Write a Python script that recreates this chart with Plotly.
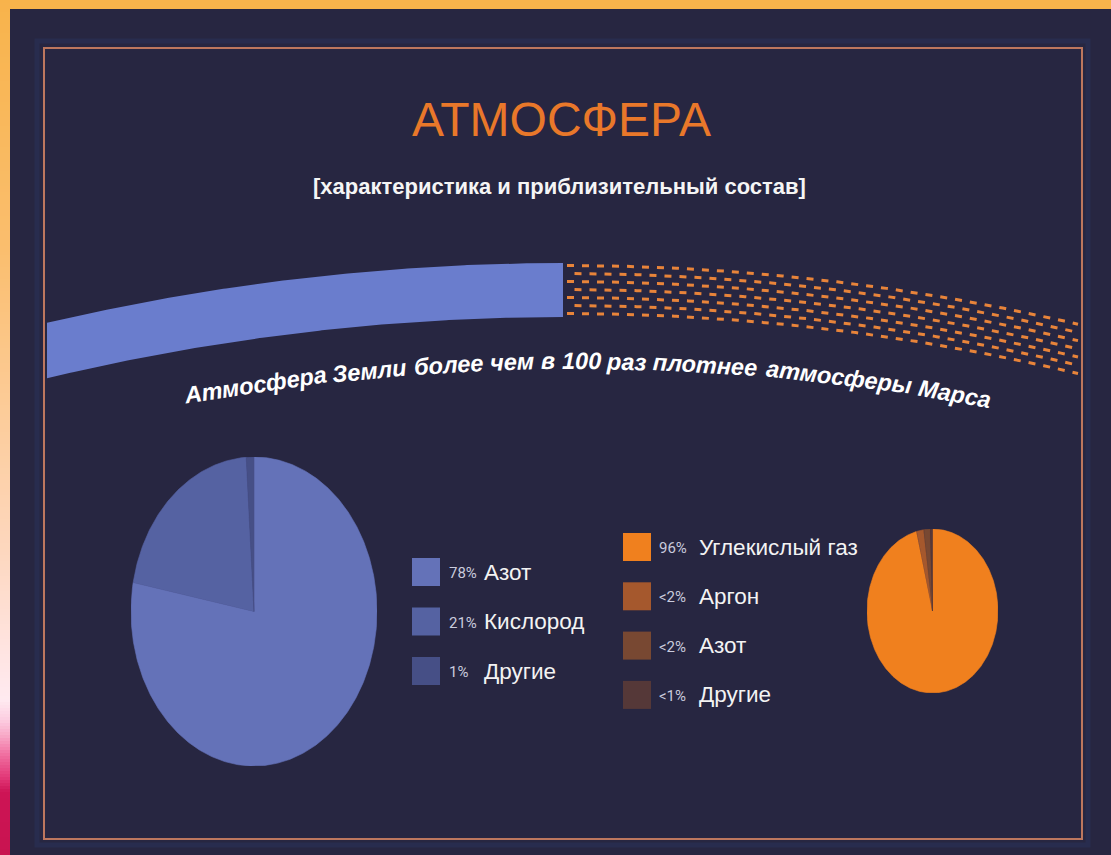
import numpy as np
import plotly.graph_objects as go

W, H = 1111, 855

# ---------------- data ----------------
title_text = "АТМОСФЕРА"
subtitle_text = "[характеристика и приблизительный состав]"
arc_words = ["Атмосфера", "Земли", "более", "чем", "в", "100", "раз", "плотнее", "атмосферы", "Марса"]

earth_labels = ["Азот", "Кислород", "Другие"]
earth_values = [78, 21, 1]
earth_pct = ["78%", "21%", "1%"]

mars_labels = ["Углекислый газ", "Аргон", "Азот", "Другие"]
mars_values = [96, 1.8, 1.6, 0.6]
mars_pct = ["96%", "<2%", "<2%", "<1%"]

# ---------------- styles / layout constants ----------------
BG = "#272641"
earth_colors = ["#6472B8", "#5562A2", "#464F86"]
mars_colors = ["#F0801E", "#A5582D", "#784832", "#553838"]
BAND_BLUE = "#6A7DCD"
DASH_ORANGE = "#E8843A"
BORDER = "#BD775E"
TITLE_ORANGE = "#E9782A"

ARC_CX, ARC_CY = 565.0, 2537.0
R_TOP, R_BOT = 2274.0, 2220.0
TEXT_CX, R_TEXT = 578.0, 2176.0
CAPTION_SIZE = 23.5
CAPTION_START_X = 186.0
# approximate rendered word widths (px) at 21px bold italic, used to lay words along the arc
WORD_W21 = [125, 70, 60, 42, 11, 36, 33, 96, 133, 64]

fig = go.Figure()

def arc_y(x, r, cx=ARC_CX):
    return ARC_CY - np.sqrt(r ** 2 - (np.asarray(x) - cx) ** 2)

# ---------- blue band (Earth atmosphere) ----------
xs = np.linspace(47, 563, 200)
bx = np.concatenate([xs, xs[::-1]])
by = np.concatenate([arc_y(xs, R_TOP), arc_y(xs[::-1], R_BOT)])
fig.add_trace(go.Scatter(x=bx, y=by, mode="lines", fill="toself", fillcolor=BAND_BLUE,
                         line=dict(width=0, color=BAND_BLUE), hoverinfo="skip"))

# ---------- dashed band (Mars atmosphere) ----------
n_rows = 7
for i in range(n_rows):
    r = R_TOP - 2.5 - i * 8.0
    x0 = 567 + (7.5 if i % 2 else 0)
    dx = np.linspace(x0, 1078, 300)
    fig.add_trace(go.Scatter(x=dx, y=arc_y(dx, r), mode="lines",
                             line=dict(color=DASH_ORANGE, width=3, dash="7px,8px"),
                             hoverinfo="skip"))

# ---------- pies drawn as wedges on their own axes (ellipses) ----------
def add_pie(values, colors, xa, ya):
    total = float(sum(values))
    start = 0.0
    for v, c in zip(values, colors):
        end = start + v / total * 360.0
        a = np.radians(np.linspace(start, end, max(4, int((end - start) * 2) + 2)))
        px = np.concatenate([[0], np.sin(a), [0]])
        py = np.concatenate([[0], np.cos(a), [0]])
        fig.add_trace(go.Scatter(x=px, y=py, mode="lines", fill="toself", fillcolor=c,
                                 line=dict(width=0.6, color=c), xaxis=xa, yaxis=ya,
                                 hoverinfo="skip"))
        start = end

add_pie(earth_values, earth_colors, "x2", "y2")
add_pie(mars_values, mars_colors, "x3", "y3")

# ---------- legend swatches ----------
L_SQ_X, L_ROW0, L_STEP = 426, 572, 49.5
R_SQ_X, R_ROW0, R_STEP = 637, 547, 49.3
left_rows = [L_ROW0 + i * L_STEP for i in range(len(earth_labels))]
right_rows = [R_ROW0 + i * R_STEP for i in range(len(mars_labels))]

fig.add_trace(go.Scatter(x=[L_SQ_X] * len(earth_labels), y=left_rows, mode="markers",
                         marker=dict(symbol="square", size=28, color=earth_colors, line=dict(width=0)),
                         hoverinfo="skip"))
fig.add_trace(go.Scatter(x=[R_SQ_X] * len(mars_labels), y=right_rows, mode="markers",
                         marker=dict(symbol="square", size=28, color=mars_colors, line=dict(width=0)),
                         hoverinfo="skip"))

annotations = []
PCT_FONT = dict(family="Liberation Sans Narrow, Roboto, Liberation Sans, Arial", size=15, color="#C9CBDD")
NAME_FONT = dict(family="Liberation Sans, Arial", size=22.5, color="#F3F3F3")
for y, p, n in zip(left_rows, earth_pct, earth_labels):
    annotations.append(dict(x=447, y=y + 1, text=p, xanchor="left", yanchor="middle",
                            showarrow=False, font=PCT_FONT, xref="x", yref="y"))
    annotations.append(dict(x=482, y=y, text=n, xanchor="left", yanchor="middle",
                            showarrow=False, font=NAME_FONT, xref="x", yref="y"))
for y, p, n in zip(right_rows, mars_pct, mars_labels):
    annotations.append(dict(x=657, y=y + 1, text=p, xanchor="left", yanchor="middle",
                            showarrow=False, font=PCT_FONT, xref="x", yref="y"))
    annotations.append(dict(x=697, y=y, text=n, xanchor="left", yanchor="middle",
                            showarrow=False, font=NAME_FONT, xref="x", yref="y"))

# ---------- title + subtitle ----------
annotations.append(dict(x=561, y=119, text=title_text, xanchor="center", yanchor="middle",
                        showarrow=False, xref="x", yref="y",
                        font=dict(family="Liberation Sans, Arial", size=48, color=TITLE_ORANGE)))
annotations.append(dict(x=559, y=186, text="<b>" + subtitle_text + "</b>", xanchor="center",
                        yanchor="middle", showarrow=False, xref="x", yref="y",
                        font=dict(family="Liberation Sans, Arial", size=22, color="#F5F5F5")))

# ---------- curved caption (words laid along an arc) ----------
scale = CAPTION_SIZE / 21.0
space = 0.278 * CAPTION_SIZE
t0 = np.arcsin((CAPTION_START_X - TEXT_CX) / R_TEXT)
s = R_TEXT * t0
for w, w21 in zip(arc_words, WORD_W21):
    ww = w21 * scale
    sc = s + ww / 2.0
    t = sc / R_TEXT
    cx = TEXT_CX + R_TEXT * np.sin(t)
    cy = ARC_CY - R_TEXT * np.cos(t)
    annotations.append(dict(x=float(cx), y=float(cy), text="<b><i>" + w + "</i></b>", xanchor="center",
                            yanchor="middle", showarrow=False, textangle=float(np.degrees(t)),
                            xref="x", yref="y",
                            font=dict(family="Liberation Sans, Arial", size=CAPTION_SIZE, color="#FFFFFF")))
    s += ww + space

# ---------- frame decoration ----------
shapes = []
shapes.append(dict(type="rect", xref="x", yref="y", x0=0, x1=W, y0=0, y1=9,
                   fillcolor="#F8B34B", line=dict(width=0), layer="below"))
stops = [(0, (248, 179, 75)), (250, (250, 190, 110)), (400, (252, 203, 150)),
         (550, (253, 215, 190)), (650, (255, 228, 225)), (700, (255, 234, 240)),
         (720, (252, 205, 225)), (735, (248, 170, 200)), (755, (240, 110, 160)),
         (778, (225, 55, 118)), (792, (205, 20, 85)), (855, (200, 20, 80))]
sy = [st[0] for st in stops]
for y0 in range(0, H, 3):
    yc = y0 + 1.5
    rgb = [int(round(np.interp(yc, sy, [st[1][k] for st in stops]))) for k in range(3)]
    shapes.append(dict(type="rect", xref="x", yref="y", x0=0, x1=10, y0=y0, y1=y0 + 3,
                       fillcolor="rgb(%d,%d,%d)" % tuple(rgb), line=dict(width=0), layer="below"))
shapes.append(dict(type="rect", xref="x", yref="y", x0=37, x1=1088, y0=41, y1=845,
                   line=dict(color="#282C4E", width=5), layer="below"))
shapes.append(dict(type="rect", xref="x", yref="y", x0=44, x1=1082, y0=48, y1=839,
                   line=dict(color=BORDER, width=2), layer="below"))

hidden = dict(visible=False, showgrid=False, zeroline=False, fixedrange=True)
fig.update_layout(
    width=W, height=H, margin=dict(l=0, r=0, t=0, b=0),
    paper_bgcolor=BG, plot_bgcolor=BG, showlegend=False,
    xaxis=dict(range=[0, W], domain=[0, 1], **hidden),
    yaxis=dict(range=[H, 0], domain=[0, 1], **hidden),
    xaxis2=dict(range=[-1, 1], domain=[131 / W, 377 / W], anchor="y2", **hidden),
    yaxis2=dict(range=[-1, 1], domain=[1 - 766 / H, 1 - 457 / H], anchor="x2", **hidden),
    xaxis3=dict(range=[-1, 1], domain=[867 / W, 998 / W], anchor="y3", **hidden),
    yaxis3=dict(range=[-1, 1], domain=[1 - 693 / H, 1 - 529 / H], anchor="x3", **hidden),
    shapes=shapes, annotations=annotations,
)

fig.write_html("out.html")
